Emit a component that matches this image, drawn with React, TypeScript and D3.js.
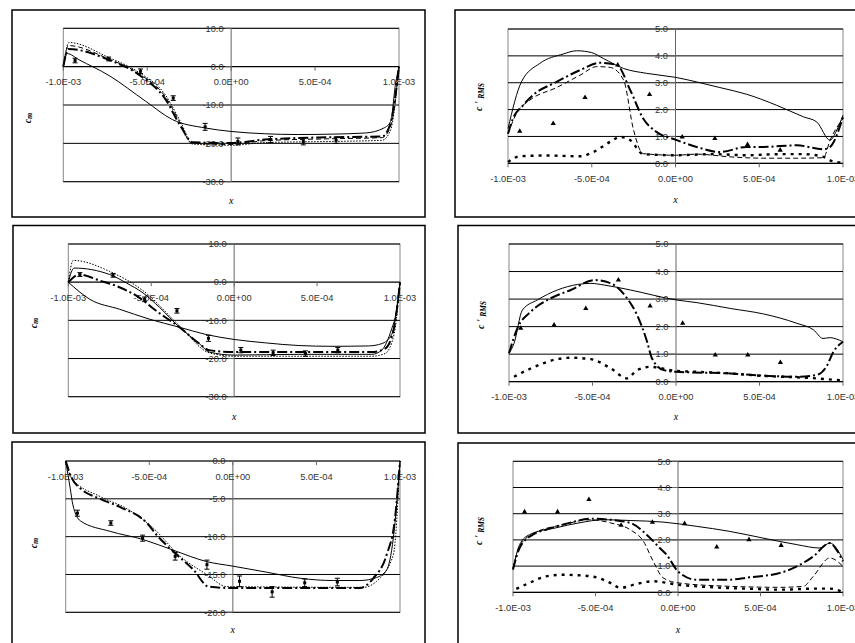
import * as d3 from "d3";

type Pt = [number, number];

// axis ticks
const xTicks = [-1e-3, -5e-4, 0, 5e-4, 1e-3];
const xTickLabels = ["-1.0E-03", "-5.0E-04", "0.0E+00", "5.0E-04", "1.0E-03"];
const cmTicksA = [10, 0, -10, -20, -30];
const cmTicksB = [0, -5, -10, -15, -20];
const rmsTicks = [0, 1, 2, 3, 4, 5];

// experiment stations (shared by all panels)
const expX = [-9.3e-4, -7.3e-4, -5.4e-4, -3.45e-4, -1.55e-4, 0.4e-4, 2.35e-4, 4.3e-4, 6.25e-4];

// ---- case 1 ----
const cm1Solid: Pt[] = [[-10e-4, 0], [-9.76e-4, 3.4], [-9.07e-4, 1.8], [-7.28e-4, -2.3], [-5.1e-4, -9.0], [-3.5e-4, -13.8], [-1.53e-4, -16.0], [0, -16.9], [2.0e-4, -17.5], [4.0e-4, -17.7], [6.0e-4, -17.6], [8.0e-4, -17.3], [9.1e-4, -16.0], [9.5e-4, -14.3], [9.8e-4, -4.3], [10e-4, 0]];
const cm1DashDot: Pt[] = [[-10e-4, 0], [-9.7e-4, 4.6], [-7.3e-4, 1.8], [-5.5e-4, -2.1], [-3.9e-4, -8.6], [-3.0e-4, -15.6], [-2.3e-4, -19.7], [0, -19.9], [2.0e-4, -19.0], [6.0e-4, -18.4], [9.0e-4, -18.2], [9.5e-4, -14.7], [10e-4, 0]];
const cm1Dash: Pt[] = [[-10e-4, 0], [-9.7e-4, 5.5], [-7.3e-4, 2.0], [-5.5e-4, -1.8], [-3.9e-4, -8.0], [-3.0e-4, -15.0], [-2.4e-4, -19.8], [0, -20.3], [2.0e-4, -19.3], [6.0e-4, -18.8], [9.0e-4, -18.5], [9.5e-4, -15.5], [10e-4, 0]];
const cm1Dot: Pt[] = [[-10e-4, 0], [-9.66e-4, 6.3], [-7.3e-4, 2.4], [-5.5e-4, -1.5], [-3.9e-4, -7.5], [-3.0e-4, -14.5], [-2.3e-4, -20.2], [0, -20.5], [2.0e-4, -19.8], [6.0e-4, -19.5], [9.0e-4, -19.2], [9.5e-4, -16.5], [10e-4, 0]];
const cm1Exp = [1.6, 2.0, -1.2, -8.2, -15.7, -19.5, -19.0, -19.5, -19.2];
const cm1Err = [0.6, 0.5, 0.6, 0.6, 0.9, 0.9, 0.8, 0.9, 0.8];

const rms1Solid: Pt[] = [[-10e-4, 1.29], [-9.2e-4, 3.03], [-8.1e-4, 3.72], [-6.7e-4, 4.07], [-5.9e-4, 4.19], [-5.0e-4, 4.12], [-4.3e-4, 3.9], [-3.1e-4, 3.53], [-1.73e-4, 3.35], [0, 3.2], [1.26e-4, 3.03], [2.65e-4, 2.82], [4.25e-4, 2.57], [6.04e-4, 2.16], [7.64e-4, 1.73], [8.43e-4, 1.54], [9.23e-4, 0.86], [9.6e-4, 1.2], [10e-4, 1.79]];
const rms1DashDot: Pt[] = [[-10e-4, 1.1], [-9.7e-4, 1.67], [-9.1e-4, 2.16], [-8.5e-4, 2.54], [-7.1e-4, 3.03], [-5.7e-4, 3.47], [-4.5e-4, 3.74], [-3.5e-4, 3.66], [-2.7e-4, 2.72], [-1.93e-4, 1.67], [-1.14e-4, 1.17], [0, 0.88], [1.26e-4, 0.61], [2.65e-4, 0.42], [4.25e-4, 0.61], [5.24e-4, 0.61], [7.24e-4, 0.67], [8.83e-4, 0.52], [9.23e-4, 0.61], [10e-4, 1.73]];
const rms1Dash: Pt[] = [[-10e-4, 1.1], [-9.5e-4, 1.85], [-8.7e-4, 2.35], [-7.1e-4, 2.82], [-5.7e-4, 3.28], [-4.7e-4, 3.6], [-3.9e-4, 3.57], [-3.1e-4, 3.1], [-2.5e-4, 1.23], [-1.93e-4, 0.36], [0, 0.3], [1.26e-4, 0.34], [3.25e-4, 0.24], [5.24e-4, 0.19], [7.24e-4, 0.19], [8.83e-4, 0.21], [9.23e-4, 0.86], [10e-4, 1.67]];
const rms1Dot: Pt[] = [[-10e-4, 0.05], [-9.3e-4, 0.26], [-7.7e-4, 0.29], [-5.7e-4, 0.26], [-4.9e-4, 0.42], [-3.9e-4, 0.8], [-3.3e-4, 0.98], [-2.7e-4, 0.86], [-1.93e-4, 0.34], [0, 0.3], [2.25e-4, 0.34], [4.25e-4, 0.3], [6.24e-4, 0.34], [7.64e-4, 0.34], [8.83e-4, 0.24], [9.23e-4, 0.11], [10e-4, 0.02]];
const rms1Exp = [1.19, 1.48, 2.45, 3.66, 2.56, 0.98, 0.92, 0.7, 0.49];

// ---- case 2 ----
const cm2Solid: Pt[] = [[-10e-4, 0], [-8.7e-4, -4.5], [-6.9e-4, -7.1], [-5.1e-4, -9.7], [-3.3e-4, -11.8], [-1.7e-4, -13.7], [0, -15.0], [1.9e-4, -15.9], [3.9e-4, -16.6], [5.9e-4, -16.8], [8.1e-4, -16.7], [8.9e-4, -16.1], [9.5e-4, -13.7], [10e-4, 0]];
const cm2Thin: Pt[] = [[-10e-4, 0], [-9.65e-4, 3.7], [-7.5e-4, 2.0], [-6.5e-4, -0.2], [-5.5e-4, -2.8], [-4.5e-4, -6.6], [-3.3e-4, -11.8], [-2.1e-4, -16.1], [-1.5e-4, -18.3], [0, -19.1], [3.9e-4, -18.9], [8.3e-4, -18.9], [8.9e-4, -17.8], [9.5e-4, -12.2], [9.75e-4, -8.4], [10e-4, 0]];
const cm2Dot: Pt[] = [[-10e-4, 0], [-9.7e-4, 5.7], [-7.5e-4, 2.8], [-5.5e-4, -2.2], [-3.3e-4, -11.4], [-1.5e-4, -18.5], [0, -19.4], [8.3e-4, -19.4], [9.1e-4, -18.7], [9.65e-4, -13.5], [10e-4, 0]];
const cm2DashDot: Pt[] = [[-10e-4, 0], [-9.35e-4, 2.0], [-8.1e-4, 0.4], [-7.1e-4, -1.0], [-5.7e-4, -4.1], [-4.7e-4, -7.5], [-3.3e-4, -11.8], [-2.1e-4, -16.1], [-1.5e-4, -17.8], [0, -18.3], [8.3e-4, -18.3], [9.1e-4, -17.4], [9.65e-4, -11.8], [10e-4, 0]];
const cm2Exp = [2.0, 1.8, -4.5, -7.5, -14.7, -17.8, -18.5, -18.7, -17.8];
const cm2Err = [0.5, 0.5, 0.6, 0.6, 0.8, 0.7, 0.7, 0.7, 0.7];

const rms2Solid: Pt[] = [[-10e-4, 1.03], [-9.7e-4, 1.39], [-9.2e-4, 2.6], [-8.3e-4, 2.97], [-7.1e-4, 3.33], [-5.9e-4, 3.53], [-5.1e-4, 3.57], [-4.3e-4, 3.51], [-2.73e-4, 3.33], [0, 2.97], [1.26e-4, 2.87], [3.25e-4, 2.66], [5.24e-4, 2.46], [7.24e-4, 2.12], [8.24e-4, 1.88], [8.8e-4, 1.57], [9.23e-4, 1.6], [9.6e-4, 1.55], [10e-4, 1.45]];
const rms2Dash: Pt[] = [[-10e-4, 1.03], [-9.5e-4, 1.94], [-8.7e-4, 2.54], [-7.5e-4, 3.03], [-6.3e-4, 3.33], [-4.9e-4, 3.69], [-3.9e-4, 3.57], [-2.93e-4, 3.03], [-2.33e-4, 2.42], [-1.73e-4, 1.45], [-1.44e-4, 0.85], [-0.74e-4, 0.42], [0, 0.36], [3.25e-4, 0.3], [5.24e-4, 0.22], [7.24e-4, 0.18], [8.4e-4, 0.24], [9.0e-4, 0.54], [9.43e-4, 1.09], [10e-4, 1.45]];
const rms2Dot: Pt[] = [[-9.7e-4, 0.18], [-8.7e-4, 0.48], [-7.1e-4, 0.82], [-6.3e-4, 0.87], [-5.1e-4, 0.82], [-3.9e-4, 0.48], [-2.93e-4, 0.12], [-2.33e-4, 0.42], [-1.53e-4, 0.54], [0, 0.39], [1.26e-4, 0.36], [3.25e-4, 0.3], [5.24e-4, 0.21], [7.24e-4, 0.16], [8.4e-4, 0.12], [10e-4, 0.04]];
const rms2Exp = [1.94, 2.06, 2.66, 3.69, 2.75, 2.12, 0.97, 0.97, 0.7];

// ---- case 3 ----
const cm3Solid: Pt[] = [[-10e-4, 0], [-9.73e-4, -3.6], [-9.57e-4, -5.8], [-9.13e-4, -7.9], [-7.34e-4, -9.3], [-5.34e-4, -10.4], [-3.55e-4, -11.8], [-1.56e-4, -13.3], [0, -13.9], [2.03e-4, -14.7], [4.03e-4, -15.5], [6.02e-4, -15.8], [7.6e-4, -15.8], [8.6e-4, -15.4], [9.2e-4, -14.4], [9.6e-4, -10.2], [10e-4, 0]];
const cm3DashDot: Pt[] = [[-10e-4, 0], [-9.63e-4, -2.3], [-9.13e-4, -3.6], [-7.94e-4, -5.0], [-6.74e-4, -6.1], [-5.14e-4, -8.2], [-4.55e-4, -9.8], [-3.55e-4, -12.0], [-2.35e-4, -14.4], [-1.46e-4, -16.6], [0, -16.8], [7.6e-4, -16.8], [8.4e-4, -15.5], [9.2e-4, -12.4], [9.7e-4, -7.6], [10e-4, 0]];
const cm3Dot: Pt[] = [[-10e-4, 0], [-9.63e-4, -2.3], [-7.94e-4, -4.7], [-6.34e-4, -6.3], [-4.75e-4, -8.9], [-3.15e-4, -12.6], [-1.56e-4, -15.0], [-0.36e-4, -16.6], [7.8e-4, -16.7], [8.6e-4, -15.9], [9.6e-4, -12.4], [10e-4, 0]];
const cm3Exp = [-6.9, -8.2, -10.2, -12.6, -13.7, -15.9, -17.3, -16.1, -16.0];
const cm3Err = [0.4, 0.3, 0.4, 0.5, 0.6, 0.7, 0.7, 0.5, 0.5];

const rms3Solid: Pt[] = [[-10e-4, 0.87], [-9.6e-4, 1.82], [-9.0e-4, 2.2], [-7.4e-4, 2.46], [-6.0e-4, 2.65], [-4.5e-4, 2.77], [-2.9e-4, 2.74], [-0.9e-4, 2.68], [1.1e-4, 2.52], [3.1e-4, 2.33], [5.15e-4, 2.07], [7.2e-4, 1.82], [8.6e-4, 1.69], [9.2e-4, 1.88], [10e-4, 1.25]];
const rms3DashDot: Pt[] = [[-10e-4, 0.87], [-9.6e-4, 1.69], [-8.8e-4, 2.2], [-8.0e-4, 2.39], [-6.57e-4, 2.65], [-5.35e-4, 2.81], [-4.1e-4, 2.77], [-2.9e-4, 2.65], [-1.9e-4, 2.2], [-1.1e-4, 1.69], [-0.7e-4, 1.44], [0, 0.8], [1.1e-4, 0.48], [3.1e-4, 0.48], [4.3e-4, 0.57], [6.2e-4, 0.74], [7.2e-4, 0.99], [8.2e-4, 1.37], [9.2e-4, 1.88], [9.6e-4, 1.63], [10e-4, 1.18]];
const rms3Dash: Pt[] = [[-10e-4, 0.93], [-9.6e-4, 1.75], [-8.8e-4, 2.23], [-6.97e-4, 2.58], [-5.35e-4, 2.77], [-4.1e-4, 2.65], [-2.9e-4, 2.39], [-2.1e-4, 1.95], [-1.5e-4, 1.18], [-0.9e-4, 0.55], [0, 0.36], [3.1e-4, 0.23], [6.2e-4, 0.19], [7.6e-4, 0.23], [8.2e-4, 0.61], [9.2e-4, 1.31], [10e-4, 0.99]];
const rms3Dot: Pt[] = [[-9.8e-4, 0.13], [-9.0e-4, 0.36], [-8.0e-4, 0.61], [-6.97e-4, 0.67], [-6.0e-4, 0.65], [-4.95e-4, 0.57], [-4.1e-4, 0.36], [-3.5e-4, 0.17], [-2.5e-4, 0.32], [-1.5e-4, 0.42], [0, 0.29], [2.1e-4, 0.19], [4.1e-4, 0.14], [6.2e-4, 0.1], [8.2e-4, 0.14], [9.2e-4, 0.14], [10e-4, 0.01]];
const rms3Exp = [3.07, 3.07, 3.54, 2.56, 2.67, 2.62, 1.73, 2.01, 1.79];

const lineStyles: Record<string, { w: number; dash?: string }> = {
  solid: { w: 1 },
  dashDot: { w: 2, dash: "10,3,2,3" },
  dash: { w: 1, dash: "5,3" },
  dot: { w: 1, dash: "1.5,1.5" },
  dotThick: { w: 2.4, dash: "3,5" },
};

type PanelCfg = {
  kind: "cm" | "rms";
  frame: [number, number, number, number];
  left: number; right: number; top: number; bottom: number;
  yTicks: number[];
  yLabel: [number, number];
  xTitleY: number;
  series: { data: Pt[]; style: string }[];
  exp: number[];
  err?: number[];
};

const panels: PanelCfg[] = [
  {
    kind: "cm", frame: [12, 10, 425, 217], left: 63.3, right: 399, top: 28.3, bottom: 181.7,
    yTicks: cmTicksA, yLabel: [31, 118], xTitleY: 204,
    series: [
      { data: cm1Solid, style: "solid" }, { data: cm1Dot, style: "dot" },
      { data: cm1Dash, style: "dash" }, { data: cm1DashDot, style: "dashDot" },
    ],
    exp: cm1Exp, err: cm1Err,
  },
  {
    kind: "cm", frame: [13, 225.5, 425, 433], left: 68.3, right: 400, top: 244, bottom: 396.7,
    yTicks: cmTicksA, yLabel: [37, 323], xTitleY: 419.5,
    series: [
      { data: cm2Solid, style: "solid" }, { data: cm2Thin, style: "solid" },
      { data: cm2Dot, style: "dot" }, { data: cm2DashDot, style: "dashDot" },
    ],
    exp: cm2Exp, err: cm2Err,
  },
  {
    kind: "cm", frame: [12, 442, 425, 670], left: 65.7, right: 400, top: 461, bottom: 612.3,
    yTicks: cmTicksB, yLabel: [37, 543], xTitleY: 632.5,
    series: [
      { data: cm3Solid, style: "solid" }, { data: cm3Dot, style: "dot" },
      { data: cm3DashDot, style: "dashDot" },
    ],
    exp: cm3Exp, err: cm3Err,
  },
  {
    kind: "rms", frame: [455, 10, 880, 217], left: 508, right: 843, top: 29, bottom: 163.3,
    yTicks: rmsTicks, yLabel: [482, 97], xTitleY: 203,
    series: [
      { data: rms1Solid, style: "solid" }, { data: rms1Dash, style: "dash" },
      { data: rms1Dot, style: "dotThick" }, { data: rms1DashDot, style: "dashDot" },
    ],
    exp: rms1Exp,
  },
  {
    kind: "rms", frame: [458, 225.5, 880, 433], left: 509, right: 843, top: 244, bottom: 381.7,
    yTicks: rmsTicks, yLabel: [484, 315], xTitleY: 419.5,
    series: [
      { data: rms2Solid, style: "solid" }, { data: rms2Dot, style: "dotThick" },
      { data: rms2Dash, style: "dashDot" },
    ],
    exp: rms2Exp,
  },
  {
    kind: "rms", frame: [458, 443, 880, 670], left: 513, right: 843, top: 461.3, bottom: 592.3,
    yTicks: rmsTicks, yLabel: [482, 531], xTitleY: 632.5,
    series: [
      { data: rms3Solid, style: "solid" }, { data: rms3Dash, style: "dash" },
      { data: rms3Dot, style: "dotThick" }, { data: rms3DashDot, style: "dashDot" },
    ],
    exp: rms3Exp,
  },
];

const tickFont = "'Liberation Sans', Arial, sans-serif";
const titleFont = "'Liberation Serif', 'Times New Roman', serif";

function Panel({ p }: { p: PanelCfg }) {
  const yMin = d3.min(p.yTicks) as number;
  const yMax = d3.max(p.yTicks) as number;
  const x = d3.scaleLinear().domain([-1e-3, 1e-3]).range([p.left, p.right]);
  const y = d3.scaleLinear().domain([yMin, yMax]).range([p.bottom, p.top]);
  const line = d3.line<Pt>().x((d) => x(d[0])).y((d) => y(d[1])).curve(d3.curveMonotoneX);
  const x0 = x(0);
  const y0 = y(0);
  const [fx0, fy0, fx1, fy1] = p.frame;
  const tri = d3.symbol().type(d3.symbolTriangle).size(12)();

  return (
    <g>
      <rect x={fx0} y={fy0} width={fx1 - fx0} height={fy1 - fy0} fill="#fff" stroke="#000" strokeWidth={1.5} />
      <rect x={p.left} y={p.top} width={p.right - p.left} height={p.bottom - p.top} fill="none" stroke="#888" strokeWidth={1} />
      {p.yTicks.map((t) => (
        <line key={"g" + t} x1={p.left} x2={p.right} y1={y(t)} y2={y(t)} stroke="#000" strokeWidth={t === 0 ? 1.2 : 1} />
      ))}
      <line x1={x0} x2={x0} y1={p.top} y2={p.bottom} stroke="#666" strokeWidth={1} />
      {p.yTicks.map((t) => (
        <g key={"yt" + t}>
          <line x1={x0 - 6} x2={x0} y1={y(t)} y2={y(t)} stroke="#666" />
          <text x={x0 - 7.5} y={y(t) + 3.3} textAnchor="end" fontSize={9.3} fontFamily={tickFont} fill="#333">
            {t.toFixed(1)}
          </text>
        </g>
      ))}
      {xTicks.map((t, i) => (
        <g key={"xt" + i}>
          <line x1={x(t)} x2={x(t)} y1={y0} y2={y0 + 4} stroke="#666" />
          <text x={x(t)} y={y0 + 18.5} textAnchor="middle" fontSize={9.3} fontFamily={tickFont} fill="#333">
            {xTickLabels[i]}
          </text>
        </g>
      ))}
      {p.series.map((s, i) => {
        const st = lineStyles[s.style];
        return (
          <path key={"s" + i} d={line(s.data) ?? ""} fill="none" stroke="#000" strokeWidth={st.w} strokeDasharray={st.dash} />
        );
      })}
      {p.exp.map((v, i) => {
        const e = p.err?.[i] ?? 0;
        return p.kind === "cm" ? (
          <g key={"e" + i} stroke="#000" strokeWidth={1}>
            <line x1={x(expX[i])} x2={x(expX[i])} y1={y(v - e)} y2={y(v + e)} />
            <line x1={x(expX[i]) - 2.5} x2={x(expX[i]) + 2.5} y1={y(v - e)} y2={y(v - e)} />
            <line x1={x(expX[i]) - 2.5} x2={x(expX[i]) + 2.5} y1={y(v + e)} y2={y(v + e)} />
            <rect x={x(expX[i]) - 1.5} y={y(v) - 1.5} width={3} height={3} fill="#000" stroke="none" />
          </g>
        ) : (
          <path key={"e" + i} d={tri ?? ""} transform={`translate(${x(expX[i])},${y(v)})`} fill="#000" />
        );
      })}
      <text x={(p.left + p.right) / 2} y={p.xTitleY} textAnchor="middle" fontSize={10} fontStyle="italic" fontFamily={titleFont}>
        x
      </text>
      <text
        transform={`translate(${p.yLabel[0]},${p.yLabel[1]}) rotate(-90)`}
        textAnchor="middle"
        fontSize={10}
        fontStyle="italic"
        fontWeight="bold"
        fontFamily={titleFont}
      >
        {p.kind === "cm" ? (
          <>
            <tspan>c</tspan>
            <tspan fontSize={8} dy={1}>m</tspan>
          </>
        ) : (
          <>
            <tspan>c ' </tspan>
            <tspan fontSize={7.5} dy={1.5}>RMS</tspan>
          </>
        )}
      </text>
    </g>
  );
}

export default function App() {
  return (
    <svg width={855} height={643} style={{ position: "absolute", left: 0, top: 0, background: "#fff" }}>
      <rect width={855} height={643} fill="#fff" />
      {panels.map((p, i) => (
        <Panel key={i} p={p} />
      ))}
    </svg>
  );
}
